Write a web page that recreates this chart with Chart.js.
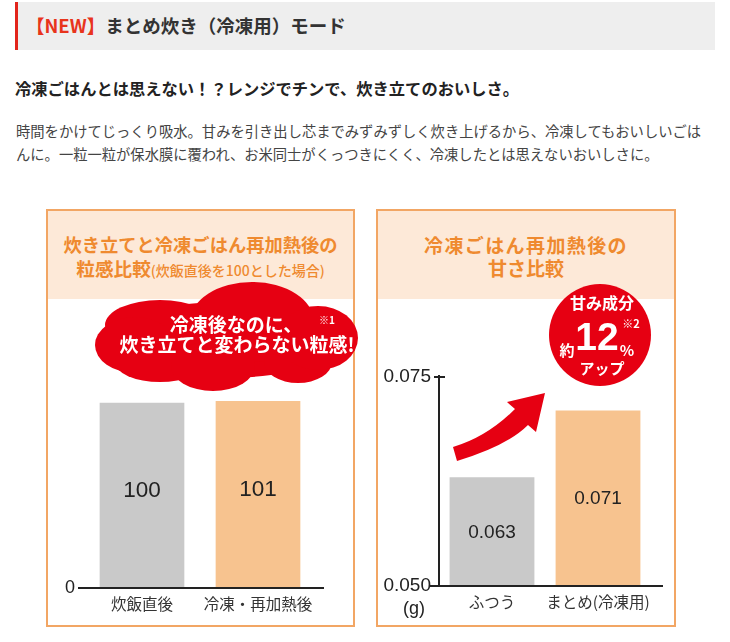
<!DOCTYPE html>
<html lang="ja">
<head>
<meta charset="utf-8">
<script src="https://cdn.jsdelivr.net/npm/chart.js@4.4.1/dist/chart.umd.min.js"></script>
<style>
  html, body { margin: 0; padding: 0; background: #fff; }
  body { width: 730px; height: 642px; position: relative; overflow: hidden;
         font-family: "Noto Sans CJK JP", "Noto Sans", sans-serif; color: #333; }
  .abs { position: absolute; }
  .c { position: absolute; transform: translate(-50%, -50%); white-space: nowrap; }
  #head { left: 15px; top: 2px; width: 700px; height: 48px; box-sizing: border-box;
          background: #eeeeee; border-left: 3px solid #e2241b; padding-left: 8px;
          font-size: 18.5px; font-weight: bold; line-height: 46px; color: #333; }
  #head span { color: #e8341c; }
  #lead { left: 15px; top: 76px; font-size: 16.3px; font-weight: bold; line-height: 24px; color: #222; white-space: nowrap; }
  #body { left: 16px; top: 120px; font-size: 14.3px; line-height: 22.5px; color: #444; white-space: nowrap; }
  .panel { position: absolute; top: 209px; height: 418px; box-sizing: border-box; border: 2px solid #f2a664; }
  .panel .top { position: absolute; left: 0; top: 0; right: 0; height: 88px; background: #fde9d8; }
  .ttl { position: absolute; left: 0; right: 0; text-align: center; color: #ef8a2f; font-weight: bold; white-space: nowrap; }
  canvas { position: absolute; }
  svg { position: absolute; left: 0; top: 0; }
  .w { color: #fff; font-weight: bold; }
</style>
</head>
<body>
<div id="head" class="abs"><span>【NEW】</span>まとめ炊き（冷凍用）モード</div>
<div id="lead" class="abs">冷凍ごはんとは思えない！？レンジでチンで、炊き立てのおいしさ。</div>
<div id="body" class="abs">時間をかけてじっくり吸水。甘みを引き出し芯までみずみずしく炊き上げるから、冷凍してもおいしいごは<br>んに。一粒一粒が保水膜に覆われ、お米同士がくっつきにくく、冷凍したとは思えないおいしさに。</div>

<div class="panel" style="left:46px;width:309px;">
  <div class="top"></div>
  <div class="ttl" style="top:22px;font-size:18.3px;line-height:23px;">炊き立てと冷凍ごはん再加熱後の</div>
  <div class="ttl" style="top:45px;font-size:18.6px;line-height:23px;">粒感比較<span style="font-size:14px;font-weight:500;">(炊飯直後を100とした場合)</span></div>
</div>
<div class="panel" style="left:376px;width:300px;">
  <div class="top"></div>
  <div class="ttl" style="top:22px;font-size:19px;line-height:23px;letter-spacing:1.4px;">冷凍ごはん再加熱後の</div>
  <div class="ttl" style="top:45px;font-size:19px;line-height:23px;">甘さ比較</div>
</div>

<canvas id="grain" width="306" height="325" style="left:47px;top:300px;"></canvas>
<canvas id="sweet" width="298" height="325" style="left:377px;top:300px;"></canvas>

<svg width="730" height="642" viewBox="0 0 730 642">
  <g fill="#e60012">
    <ellipse cx="225" cy="340" rx="120" ry="38"/>
    <ellipse cx="252" cy="322" rx="62" ry="40"/>
    <ellipse cx="160" cy="325" rx="55" ry="25"/>
    <ellipse cx="135" cy="345" rx="40" ry="28"/>
    <ellipse cx="160" cy="362" rx="45" ry="20"/>
    <ellipse cx="213" cy="366" rx="42" ry="25"/>
    <ellipse cx="298" cy="362" rx="34" ry="21"/>
    <ellipse cx="318" cy="338" rx="40" ry="32"/>
    <circle cx="600" cy="335" r="51"/>
    <path d="M453 447 Q487 437 515 409 L507 402 L545 393 L536 432 L528 425 Q507 446 457 461 Z"/>
  </g>
</svg>

<div class="c w" style="left:236px;top:323px;font-size:19px;">冷凍後なのに、</div>
<div class="c w" style="left:327px;top:319px;font-size:10px;">※1</div>
<div class="c w" style="left:237px;top:343px;font-size:19px;">炊き立てと変わらない粒感!</div>

<div class="c w" style="left:602px;top:302px;font-size:16px;">甘み成分</div>
<div class="c w" style="left:631px;top:323px;font-size:11px;">※2</div>
<div class="c w" style="left:567px;top:349px;font-size:15px;">約</div>
<div class="c w" style="left:597px;top:337px;font-size:39px;font-family:'Liberation Sans',sans-serif;">12</div>
<div class="c w" style="left:627px;top:349px;font-size:15px;">%</div>
<div class="c w" style="left:602px;top:367px;font-size:15px;">アップ</div>

<div class="c" style="left:414px;top:608px;font-size:18px;font-family:'Liberation Sans',sans-serif;color:#222;">(g)</div>

<script>
// 炊き立て vs 冷凍再加熱後 の粒感（炊飯直後=100）
const grainLabels = ['炊飯直後', '冷凍・再加熱後'];
const grainValues = [100, 101];
const grainTicks = [0];

// 冷凍ごはん再加熱後の甘さ (g)
const sweetLabels = ['ふつう', 'まとめ(冷凍用)'];
const sweetValues = [0.063, 0.071];
const sweetTicks = [0.050, 0.075];

const barColors = ['#c9c9c9', '#f7c38f'];

// value text in the middle of each bar (visible part, axis min as floor)
const barText = {
  id: 'barText',
  afterDatasetsDraw(chart, args, opts) {
    const ctx = chart.ctx;
    const y = chart.scales.y;
    const floor = y.getPixelForValue(y.min);
    const meta = chart.getDatasetMeta(0);
    ctx.save();
    ctx.font = opts.font;
    ctx.fillStyle = '#222';
    ctx.textAlign = 'center';
    ctx.textBaseline = 'middle';
    meta.data.forEach((bar, i) => {
      let v = chart.data.datasets[0].data[i];
      let base = Math.min(bar.base, floor);
      ctx.fillText(v.toFixed(opts.decimals), bar.x, (bar.y + base) / 2 + opts.shift);
    });
    ctx.restore();
  },
};

// base line (and optional vertical axis with cross tick)
const axisLines = {
  id: 'axisLines',
  afterDraw(chart, args, opts) {
    const { ctx, chartArea: a } = chart;
    const y = chart.scales.y;
    const yb = y.getPixelForValue(y.min);
    ctx.save();
    ctx.strokeStyle = opts.color;
    ctx.lineWidth = opts.width;
    ctx.beginPath();
    ctx.moveTo(a.left - opts.left, yb);
    ctx.lineTo(a.right + opts.right, yb);
    ctx.stroke();
    if (opts.vertical) {
      const yt = y.getPixelForValue(y.max);
      ctx.beginPath();
      ctx.moveTo(a.left, yb);
      ctx.lineTo(a.left, yt - 2);
      ctx.moveTo(a.left - 5, yt);
      ctx.lineTo(a.left + 6, yt);
      ctx.stroke();
    }
    ctx.restore();
  },
};

function makeChart(id, labels, values, ticks, cfg) {
  return new Chart(document.getElementById(id), {
    type: 'bar',
    data: {
      labels,
      datasets: [{
        data: values,
        backgroundColor: barColors,
        borderWidth: 0,
        categoryPercentage: 1,
        barPercentage: cfg.barPct,
      }],
    },
    options: {
      responsive: false,
      animation: false,
      events: [],
      layout: { padding: { top: cfg.top, right: cfg.right, left: 0, bottom: 0 } },
      plugins: {
        legend: { display: false },
        tooltip: { enabled: false },
        barText: { font: cfg.valueFont, shift: cfg.shift, decimals: cfg.decimals },
        axisLines: { color: '#222', width: 2, left: cfg.extL, right: cfg.extR, vertical: cfg.vertical },
      },
      scales: {
        x: {
          grid: { display: false, drawTicks: false },
          border: { display: false },
          ticks: {
            color: '#333',
            padding: 7,
            autoSkip: false,
            maxRotation: 0,
            minRotation: 0,
            font: { family: 'Noto Sans CJK JP', size: 15.5 },
          },
          afterFit(s) { s.height = cfg.xh; },
        },
        y: {
          min: cfg.min,
          max: cfg.max,
          grid: { display: false, drawTicks: true, tickLength: cfg.tl },
          border: { display: false },
          ticks: {
            color: '#222',
            padding: 3,
            font: { family: 'Liberation Sans', size: cfg.tickSize },
            callback: v => Number(v).toFixed(cfg.decimals),
          },
          afterBuildTicks(s) { s.ticks = ticks.map(v => ({ value: v })); },
          afterFit(s) { s.width = cfg.yw; },
        },
      },
    },
    plugins: [barText, axisLines],
  });
} //makeChart

makeChart('grain', grainLabels, grainValues, grainTicks, {
  barPct: 0.73, top: 12, right: 37, xh: 37, yw: 37, tl: 6,
  min: 0, max: 148, tickSize: 18, decimals: 0,
  valueFont: '22.5px "Liberation Sans"', shift: -5,
  extL: 6, extR: 8, vertical: false,
});

makeChart('sweet', sweetLabels, sweetValues, sweetTicks, {
  barPct: 0.8, top: 77, right: 24, xh: 39, yw: 62, tl: 5,
  min: 0.05, max: 0.075, tickSize: 19, decimals: 3,
  valueFont: '19px "Liberation Sans"', shift: 1,
  extL: 9, extR: 12, vertical: true,
});
</script>
</body>
</html>
